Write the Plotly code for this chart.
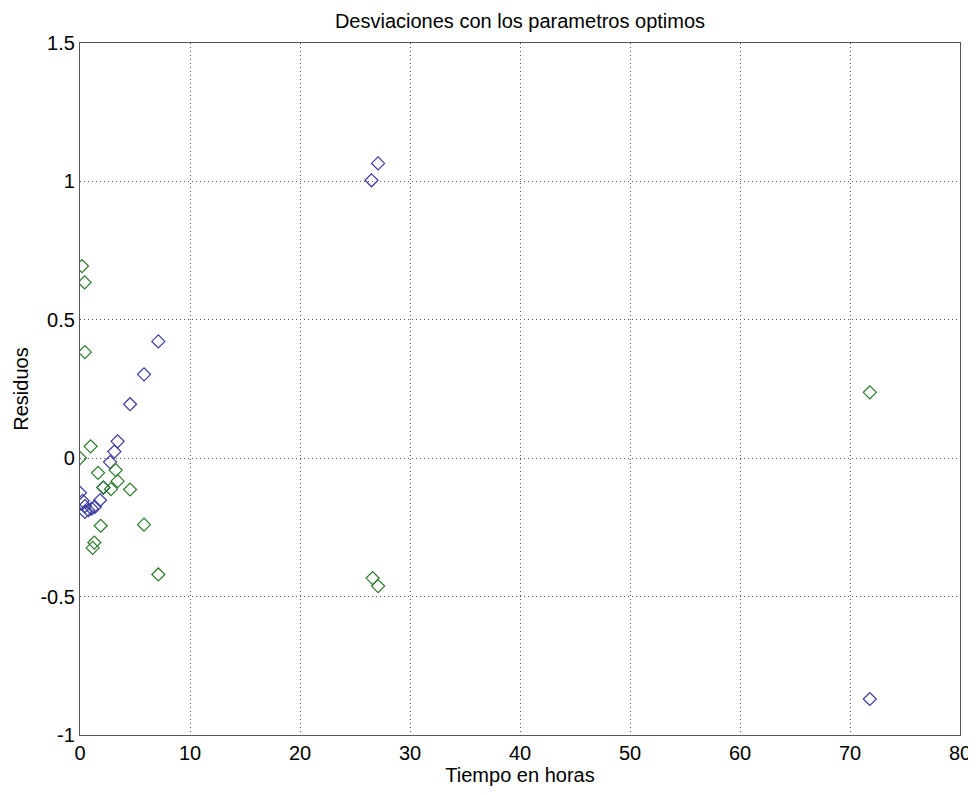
import plotly.graph_objects as go

# Blue series (residuos, serie 1)
blue_t = [0.0, 0.24, 0.45, 0.45, 0.76, 1.06, 1.36, 1.82, 2.12, 2.73, 3.12, 3.42, 4.55, 5.82, 7.12, 26.5, 27.1, 71.8]
blue_r = [-0.125, -0.154, -0.173, -0.194, -0.188, -0.182, -0.176, -0.152, -0.106, -0.014, 0.024, 0.061, 0.195, 0.303, 0.422, 1.004, 1.065, -0.87]

# Green series (residuos, serie 2)
green_t = [0.0, 0.18, 0.42, 0.45, 0.97, 1.15, 1.3, 1.64, 1.88, 2.12, 2.82, 3.24, 3.42, 4.55, 5.82, 7.12, 26.6, 27.1, 71.8]
green_r = [0.0, 0.694, 0.635, 0.383, 0.043, -0.324, -0.305, -0.053, -0.244, -0.106, -0.112, -0.043, -0.083, -0.113, -0.24, -0.42, -0.433, -0.462, 0.238]

x_ticks = [0, 10, 20, 30, 40, 50, 60, 70, 80]
x_labels = ["0", "10", "20", "30", "40", "50", "60", "70", "80"]
y_ticks = [-1, -0.5, 0, 0.5, 1, 1.5]
y_labels = ["-1", "-0.5", "0", "0.5", "1", "1.5"]

FONT = "Liberation Sans, Arial, sans-serif"

fig = go.Figure()
fig.add_trace(go.Scatter(x=blue_t, y=blue_r, mode="markers",
                         marker=dict(symbol="diamond-open", size=10, color="#3a3aa0", line=dict(width=1.2)),
                         showlegend=False))
fig.add_trace(go.Scatter(x=green_t, y=green_r, mode="markers",
                         marker=dict(symbol="diamond-open", size=10, color="#2a7a2a", line=dict(width=1.2)),
                         showlegend=False))

axis_common = dict(showgrid=True, gridcolor="#555555", griddash="1px,3px", gridwidth=1,
                   showline=True, linecolor="#555555", linewidth=1.3, mirror=True,
                   ticks="", zeroline=False,
                   tickfont=dict(family=FONT, size=20, color="black"))

fig.update_layout(
    width=976, height=795,
    paper_bgcolor="white", plot_bgcolor="white",
    margin=dict(l=72, r=24, t=35, b=68),
    font=dict(family=FONT, color="black"),
    title=dict(text="Desviaciones con los parametros optimos", x=0.5, xanchor="center",
               xref="paper", y=0.9835, yanchor="middle", font=dict(size=20, color="black")),
    xaxis=dict(range=[0, 80], tickvals=x_ticks, ticktext=x_labels,
               title=dict(text="Tiempo en horas", font=dict(size=20), standoff=2), **axis_common),
    yaxis=dict(range=[-1, 1.5], tickvals=y_ticks, ticktext=y_labels,
               title=dict(text="Residuos", font=dict(size=20), standoff=6), **axis_common),
)

fig.write_html("out.html")
